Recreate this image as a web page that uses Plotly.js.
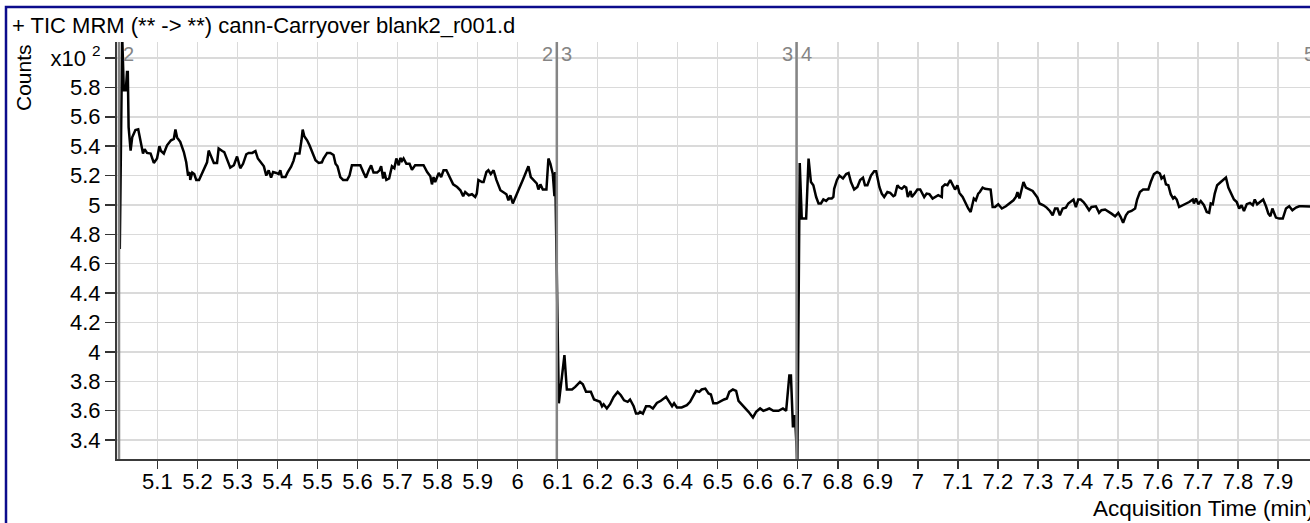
<!DOCTYPE html>
<html>
<head>
<meta charset="utf-8">
<script src="https://cdn.plot.ly/plotly-3.0.1.min.js"></script>
<style>
html,body{margin:0;padding:0;background:#fff;overflow:hidden;}
#chart{width:1310px;height:523px;}
</style>
</head>
<body>
<div id="chart"></div>
<script>
// ---- data (counts in units of 10^2) ----
var seg2Time = [5.006,5.012,5.016,5.021,5.024,5.026,5.028,5.033,5.037,5.045,5.052,5.058,5.064,5.068,5.074,5.083,5.091,5.099,5.105,5.109,5.116,5.124,5.134,5.141,5.145,5.149,5.157,5.166,5.172,5.176,5.181,5.182,5.187,5.192,5.197,5.204,5.212,5.217,5.224,5.228,5.234,5.241,5.249,5.253,5.262,5.267,5.274,5.282,5.291,5.299,5.307,5.314,5.322,5.328,5.337,5.345,5.351,5.359,5.366,5.372,5.378,5.384,5.389,5.397,5.403,5.407,5.411,5.420,5.425,5.434,5.440,5.445,5.455,5.460,5.463,5.467,5.474,5.480,5.486,5.495,5.503,5.511,5.515,5.524,5.532,5.540,5.545,5.550,5.557,5.564,5.574,5.580,5.586,5.595,5.607,5.615,5.621,5.628,5.634,5.640,5.649,5.655,5.659,5.664,5.667,5.672,5.679,5.686,5.692,5.697,5.703,5.707,5.711,5.715,5.722,5.730,5.736,5.744,5.757,5.765,5.774,5.782,5.786,5.790,5.794,5.803,5.809,5.815,5.822,5.830,5.839,5.849,5.857,5.864,5.869,5.878,5.886,5.894,5.898,5.902,5.911,5.915,5.922,5.927,5.933,5.940,5.947,5.957,5.965,5.972,5.977,5.982,5.988,5.994,6.002,6.013,6.023,6.027,6.033,6.040,6.048,6.052,6.057,6.063,6.072,6.077,6.082,6.088,6.092,6.094];
var seg2Counts = [4.70,6.15,5.78,5.78,5.905,5.905,5.53,5.37,5.46,5.51,5.515,5.42,5.35,5.38,5.354,5.35,5.286,5.316,5.40,5.367,5.35,5.406,5.44,5.45,5.513,5.46,5.43,5.36,5.29,5.21,5.22,5.17,5.22,5.21,5.17,5.17,5.22,5.24,5.29,5.37,5.33,5.286,5.286,5.384,5.367,5.36,5.31,5.254,5.27,5.33,5.25,5.28,5.345,5.354,5.354,5.367,5.316,5.29,5.263,5.20,5.236,5.186,5.224,5.218,5.21,5.236,5.19,5.19,5.22,5.26,5.30,5.35,5.35,5.44,5.513,5.467,5.44,5.406,5.36,5.304,5.286,5.29,5.316,5.354,5.354,5.34,5.28,5.263,5.19,5.17,5.17,5.20,5.27,5.27,5.27,5.22,5.186,5.236,5.27,5.22,5.22,5.236,5.263,5.18,5.224,5.17,5.18,5.263,5.25,5.316,5.27,5.32,5.30,5.316,5.28,5.28,5.24,5.27,5.27,5.27,5.224,5.195,5.14,5.19,5.156,5.218,5.19,5.236,5.236,5.19,5.14,5.122,5.10,5.06,5.088,5.066,5.073,5.054,5.077,5.17,5.156,5.156,5.224,5.236,5.21,5.236,5.17,5.10,5.088,5.073,5.032,5.066,5.01,5.054,5.10,5.17,5.236,5.263,5.19,5.17,5.146,5.105,5.14,5.105,5.105,5.316,5.28,5.21,5.06,5.224];
var seg3Time = [6.103,6.117,6.123,6.136,6.144,6.156,6.163,6.171,6.183,6.191,6.200,6.206,6.211,6.215,6.223,6.231,6.240,6.250,6.258,6.266,6.275,6.281,6.290,6.296,6.302,6.306,6.313,6.321,6.330,6.338,6.348,6.358,6.371,6.380,6.386,6.391,6.398,6.410,6.423,6.431,6.438,6.446,6.454,6.460,6.469,6.477,6.483,6.489,6.498,6.508,6.516,6.523,6.529,6.538,6.546,6.552,6.560,6.569,6.577,6.588,6.596,6.606,6.614,6.623,6.629,6.639,6.652,6.663,6.671,6.679,6.683,6.688,6.693,6.699];
var seg3Counts = [3.65,3.978,3.744,3.744,3.762,3.796,3.78,3.728,3.728,3.676,3.667,3.66,3.63,3.644,3.615,3.644,3.694,3.728,3.705,3.67,3.66,3.676,3.63,3.58,3.58,3.592,3.58,3.63,3.63,3.615,3.652,3.667,3.694,3.66,3.63,3.65,3.622,3.622,3.637,3.66,3.694,3.735,3.728,3.744,3.75,3.717,3.71,3.65,3.65,3.667,3.676,3.683,3.728,3.744,3.735,3.667,3.644,3.622,3.592,3.554,3.592,3.615,3.599,3.608,3.615,3.599,3.599,3.615,3.599,3.84,3.84,3.486,3.57,3.25];
var seg4Time = [6.705,6.710,6.721,6.727,6.733,6.739,6.746,6.752,6.758,6.764,6.771,6.777,6.785,6.789,6.791,6.798,6.804,6.813,6.821,6.827,6.833,6.841,6.849,6.856,6.863,6.868,6.874,6.883,6.891,6.896,6.904,6.910,6.916,6.924,6.931,6.939,6.943,6.949,6.954,6.960,6.966,6.971,6.975,6.982,6.985,6.993,6.999,7.006,7.012,7.016,7.022,7.029,7.037,7.043,7.051,7.060,7.061,7.068,7.074,7.081,7.087,7.093,7.099,7.104,7.112,7.120,7.126,7.132,7.137,7.140,7.145,7.151,7.155,7.162,7.168,7.176,7.182,7.187,7.193,7.201,7.210,7.220,7.230,7.239,7.245,7.249,7.254,7.257,7.260,7.264,7.270,7.279,7.287,7.293,7.299,7.304,7.314,7.322,7.330,7.337,7.343,7.349,7.355,7.362,7.370,7.376,7.382,7.389,7.395,7.401,7.407,7.414,7.420,7.428,7.434,7.445,7.453,7.459,7.468,7.476,7.484,7.493,7.501,7.507,7.513,7.520,7.526,7.534,7.543,7.548,7.555,7.563,7.576,7.582,7.590,7.598,7.605,7.609,7.615,7.620,7.626,7.632,7.638,7.642,7.647,7.653,7.662,7.670,7.678,7.687,7.690,7.695,7.701,7.707,7.715,7.722,7.728,7.732,7.737,7.742,7.748,7.757,7.763,7.770,7.776,7.784,7.790,7.797,7.803,7.809,7.815,7.822,7.830,7.837,7.842,7.848,7.855,7.863,7.870,7.876,7.881,7.886,7.895,7.903,7.912,7.920,7.928,7.936,7.945,7.953,7.961,7.980];
var seg4Counts = [5.286,4.907,4.907,5.316,5.156,5.134,5.054,5.01,5.01,5.037,5.027,5.044,5.044,5.054,5.11,5.17,5.20,5.18,5.21,5.218,5.156,5.105,5.122,5.17,5.186,5.134,5.134,5.20,5.23,5.23,5.122,5.077,5.054,5.088,5.082,5.06,5.066,5.134,5.118,5.11,5.127,5.118,5.054,5.095,5.054,5.082,5.105,5.105,5.073,5.054,5.077,5.073,5.044,5.054,5.066,5.054,5.122,5.14,5.134,5.17,5.134,5.105,5.134,5.082,5.054,5.005,4.976,4.952,5.02,5.044,5.032,5.077,5.088,5.118,5.11,5.105,5.105,4.986,4.986,5.005,4.976,4.991,5.014,5.032,5.054,5.088,5.044,5.077,5.122,5.156,5.118,5.105,5.095,5.073,5.05,5.01,4.998,4.982,4.959,4.93,4.976,4.976,4.93,4.976,4.982,5.01,5.02,5.037,4.986,5.037,5.037,5.02,4.998,4.964,4.986,4.991,4.946,4.964,4.969,4.952,4.941,4.923,4.946,4.918,4.878,4.93,4.952,4.959,4.976,5.037,5.088,5.105,5.105,5.156,5.21,5.224,5.214,5.18,5.195,5.14,5.134,5.073,5.044,5.054,5.037,4.986,4.998,5.005,5.02,5.037,5.01,5.044,5.005,5.027,4.998,4.952,4.946,5.01,5.005,5.077,5.134,5.156,5.17,5.186,5.118,5.073,5.037,5.02,4.976,4.998,4.959,5.005,5.014,4.998,5.037,5.005,5.02,5.037,4.991,4.941,4.923,4.976,4.914,4.907,4.907,4.976,4.991,4.964,4.982,4.991,4.991,4.99];

var segmentBoundaries = [5.004, 6.098, 6.697];
var boundaryLabelsBefore = ['', '2', '3'];
var boundaryLabelsAfter = ['2', '3', '4'];
var edgeLabel = '5';

var xTickVals = [5.1,5.2,5.3,5.4,5.5,5.6,5.7,5.8,5.9,6.0,6.1,6.2,6.3,6.4,6.5,6.6,6.7,6.8,6.9,7.0,7.1,7.2,7.3,7.4,7.5,7.6,7.7,7.8,7.9];
var xTickText = ['5.1','5.2','5.3','5.4','5.5','5.6','5.7','5.8','5.9','6','6.1','6.2','6.3','6.4','6.5','6.6','6.7','6.8','6.9','7','7.1','7.2','7.3','7.4','7.5','7.6','7.7','7.8','7.9'];
var yTickVals = [3.4,3.6,3.8,4.0,4.2,4.4,4.6,4.8,5.0,5.2,5.4,5.6,5.8,6.0];
var yTickText = ['3.4','3.6','3.8','4','4.2','4.4','4.6','4.8','5','5.2','5.4','5.6','5.8','x10 <sup>2</sup>'];

var titleText = '+ TIC MRM (** -> **) cann-Carryover blank2_r001.d';
var yTitle = 'Counts';
var xTitle = 'Acquisition Time (min)';

// ---- chart ----
var FONT = 'Liberation Sans, Arial, sans-serif';
var W = 1310, H = 523;
var M = {l:117, r:0, t:42, b:64};
var pw = W - M.l - M.r, ph = H - M.t - M.b;
function px2paperX(px){ return (px - M.l) / pw; }
function py2paperY(py){ return (H - M.b - py) / ph; }

var allTime = seg2Time.concat(seg3Time, seg4Time);
var allCounts = seg2Counts.concat(seg3Counts, seg4Counts);

var trace = {
  x: allTime, y: allCounts, type: 'scatter', mode: 'lines',
  line: {color: '#000000', width: 2.5}, hoverinfo: 'skip'
};

var markerFont = {family:FONT, size:20, color:'#858585'};
var shapes = [];
var annotations = [];
segmentBoundaries.forEach(function(t, i){
  shapes.push({type:'line', xref:'x', yref:'paper', x0:t, x1:t, y0:0, y1:1,
    line:{color:'#858585', width:2.5}, layer:'above'});
  if (boundaryLabelsBefore[i]) {
    annotations.push({xref:'x', yref:'paper', x:t, y:py2paperY(54), xanchor:'right', yanchor:'middle',
      xshift:-2, text:boundaryLabelsBefore[i], showarrow:false, font:markerFont});
  }
  annotations.push({xref:'x', yref:'paper', x:t, y:py2paperY(54), xanchor:'left', yanchor:'middle',
    xshift:2, text:boundaryLabelsAfter[i], showarrow:false, font:markerFont});
});
annotations.push({xref:'paper', yref:'paper', x:px2paperX(1302), y:py2paperY(54), xanchor:'left', yanchor:'middle',
  text:edgeLabel, showarrow:false, font:markerFont});

// axis titles
annotations.push({xref:'paper', yref:'paper', x:px2paperX(23), y:py2paperY(78), xanchor:'center', yanchor:'middle',
  text:yTitle, textangle:-90, showarrow:false, font:{family:FONT, size:21, color:'#000'}});
annotations.push({xref:'paper', yref:'paper', x:px2paperX(1316), y:py2paperY(509), xanchor:'right', yanchor:'middle',
  text:xTitle, showarrow:false, font:{family:FONT, size:22.5, color:'#000'}});

// blue frame
shapes.push({type:'rect', xref:'paper', yref:'paper', x0:px2paperX(6), x1:px2paperX(1330), y0:py2paperY(540), y1:py2paperY(7),
  line:{color:'#0c0c8c', width:2.5}, fillcolor:'rgba(0,0,0,0)', layer:'above'});

var axisCommon = {
  showgrid:true, gridcolor:'#dadada', gridwidth:1.5, zeroline:false,
  showline:true, linecolor:'#3a3a3a', linewidth:2,
  ticks:'outside', tickcolor:'#333', tickwidth:1.5,
  tickfont:{family:FONT, size:22, color:'#000'}, tickmode:'array', fixedrange:true
};

var layout = {
  width:W, height:H, margin:M, paper_bgcolor:'#fff', plot_bgcolor:'#fff', showlegend:false,
  title:{text:titleText, xref:'container', yref:'container', x:12/W, xanchor:'left', y:1-25/H, yanchor:'middle',
    font:{family:FONT, size:22, color:'#000'}},
  xaxis: Object.assign({}, axisCommon, {range:[4.999, 7.98], tickvals:xTickVals, ticktext:xTickText, ticklen:8, ticklabelstandoff:-6}),
  yaxis: Object.assign({}, axisCommon, {range:[3.271, 6.109], tickvals:yTickVals, ticktext:yTickText, ticklen:10}),
  shapes:shapes, annotations:annotations
};

Plotly.newPlot('chart', [trace], layout, {displayModeBar:false, staticPlot:true});
</script>
</body>
</html>
